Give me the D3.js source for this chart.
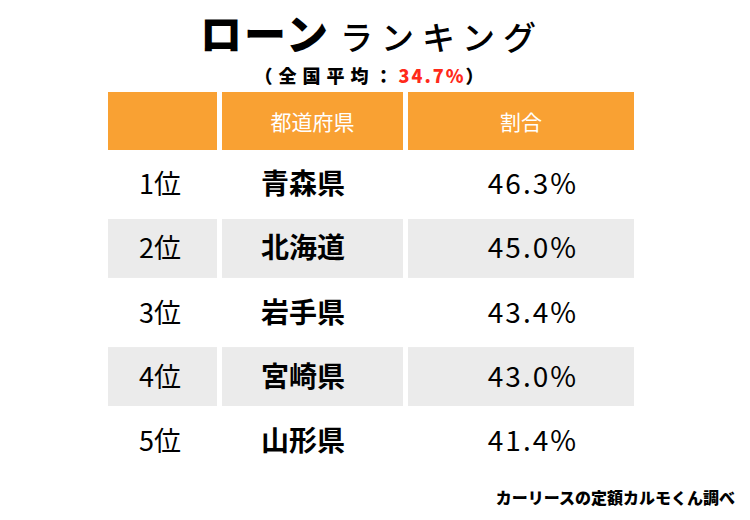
<!DOCTYPE html>
<html><head><meta charset="utf-8">
<script src="https://cdn.jsdelivr.net/npm/d3@7"></script>
<style>body{margin:0;background:#fff}svg{font-family:"Noto Sans CJK JP","Noto Sans",sans-serif}</style>
</head><body>
<svg id="c" width="750" height="520"></svg>
<script>
const ranks = ["1位","2位","3位","4位","5位"];
const prefectures = ["青森県","北海道","岩手県","宮崎県","山形県"];
const values = [46.3, 45.0, 43.4, 43.0, 41.4];
const headers = ["", "都道府県", "割合"];
const average = 34.7;

const svg = d3.select("#c");
const colX = [108, 222, 408], colW = [109, 181, 226];
const x = d3.scaleOrdinal().domain([0,1,2]).range(colX);
const y = d3.scaleBand().domain(d3.range(ranks.length)).range([155, 470]).paddingInner(0.08);

const t = svg.append("text").attr("x", 372).attr("y", 50).attr("text-anchor","middle");
t.append("tspan").text("ローン").attr("font-size",42).attr("font-weight",900).attr("letter-spacing",2);
t.append("tspan").text("ランキング").attr("font-size",33).attr("font-weight",500).attr("letter-spacing",8).attr("dx",10);
const st = svg.append("text").attr("x",372).attr("y",83).attr("text-anchor","middle").attr("font-size",18).attr("font-weight",900).attr("letter-spacing",6);
st.append("tspan").text("（全国平均：");
st.append("tspan").text(average.toFixed(1)+"%").attr("fill","#ff2a1a").attr("letter-spacing",2);
st.append("tspan").text("）");

headers.forEach((h,i)=>{
  svg.append("rect").attr("x",x(i)).attr("y",92).attr("width",colW[i]).attr("height",58).attr("fill","#f9a133");
  svg.append("text").attr("x",x(i)+colW[i]/2).attr("y",130).attr("text-anchor","middle")
    .attr("fill","#fff").attr("font-size",21).text(h);
});

ranks.forEach((r,j)=>{
  if(j%2===1){
    [0,1,2].forEach(i=>svg.append("rect").attr("x",x(i)).attr("y",y(j)).attr("width",colW[i]).attr("height",y.bandwidth()).attr("fill","#ebebeb"));
  }
  const cy = y(j)+y.bandwidth()/2+10;
  svg.append("text").attr("x",x(0)+52).attr("y",cy).attr("text-anchor","middle").attr("font-size",27).text(r);
  svg.append("text").attr("x",x(1)+81).attr("y",cy).attr("text-anchor","middle").attr("font-size",28).attr("font-weight",700).text(prefectures[j]);
  svg.append("text").attr("x",578).attr("y",cy).attr("text-anchor","end").attr("font-size",28).attr("letter-spacing",2).text(values[j].toFixed(1)+"%");
});

svg.append("text").attr("x",735).attr("y",504).attr("text-anchor","end").attr("font-size",16).attr("font-weight",900).text("カーリースの定額カルモくん調べ");
</script>
</body></html>
